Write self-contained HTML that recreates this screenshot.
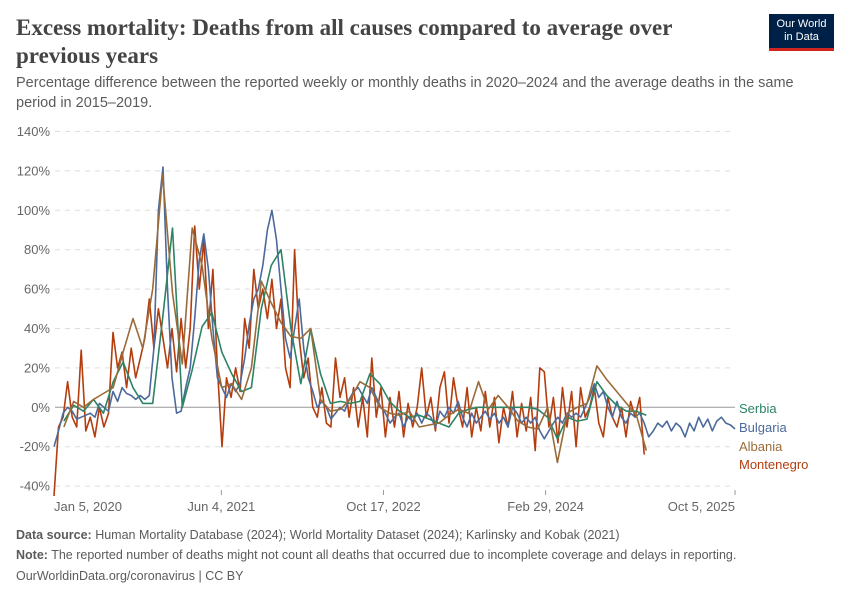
<!DOCTYPE html>
<html><head><meta charset="utf-8"><style>
body{margin:0;background:#fff;}
#wrap{position:relative;width:850px;height:600px;overflow:hidden;font-family:"Liberation Sans",sans-serif;}
.t{position:absolute;}
</style></head><body>
<div id="wrap">
<div class="t" style="left:16px;top:14px;width:700px;font-family:'Liberation Serif',serif;font-size:23px;line-height:28px;color:#444;font-weight:bold;">Excess mortality: Deaths from all causes compared to average over previous years</div>
<div class="t" style="left:769px;top:14px;width:65px;height:37px;background:#002147;border-bottom:3px solid #ce261e;box-sizing:border-box;color:#fff;font-size:11px;line-height:13px;text-align:center;padding-top:4px;">Our World<br>in Data</div>
<div class="t" style="left:16px;top:73px;width:810px;font-size:14.5px;line-height:20px;color:#5b5b5b;">Percentage difference between the reported weekly or monthly deaths in 2020–2024 and the average deaths in the same period in 2015–2019.</div>
<svg id="chart" width="850" height="600" style="position:absolute;left:0;top:0;" xmlns="http://www.w3.org/2000/svg"></svg>
<div class="t" style="left:16px;top:528px;font-size:12.5px;color:#5b5b5b;"><b>Data source:</b> Human Mortality Database (2024); World Mortality Dataset (2024); Karlinsky and Kobak (2021)</div>
<div class="t" style="left:16px;top:548px;font-size:12.5px;color:#5b5b5b;"><b>Note:</b> The reported number of deaths might not count all deaths that occurred due to incomplete coverage and delays in reporting.</div>
<div class="t" style="left:16px;top:569px;font-size:12.5px;color:#5b5b5b;">OurWorldinData.org/coronavirus | CC BY</div>
</div>
<script>
const yTicks=[-40,-20,0,20,40,60,80,100,120,140];
const xTickLabels=["Jan 5, 2020","Jun 4, 2021","Oct 17, 2022","Feb 29, 2024","Oct 5, 2025"];
const xTickDays=[0,516,1016,1516,2100];
const bulgaria=[-20,-12,-3,0,-2,-6,-5,-4,-3,-5,2,0,-2,8,3,10,7,6,4,6,4,6,30,100,122,60,15,-3,-2,10,20,45,75,88,70,40,15,10,5,12,8,12,25,42,55,60,72,90,100,85,60,35,25,40,55,30,15,8,0,3,0,-6,-3,0,-2,4,8,10,6,2,10,5,0,-3,-8,-5,-3,-10,-5,-7,-3,-8,-3,-5,-10,-2,-5,0,-3,3,-5,-10,-3,-8,-5,-2,-6,-3,-8,-5,-10,0,-3,-8,-5,-8,-5,-12,-16,-12,-8,-5,-8,-3,-5,-3,-5,0,5,12,5,8,0,-5,3,-5,-8,-3,-5,-3,-8,-15,-12,-8,-10,-7,-12,-8,-10,-15,-8,-12,-5,-10,-6,-12,-7,-5,-8,-9,-11];
const montenegro=[-45,-10,-5,13,-5,-10,29,-12,-5,-15,0,-10,-3,38,20,28,10,30,15,25,35,55,30,50,35,20,40,18,45,20,40,92,60,85,40,70,20,-20,15,5,20,8,45,30,70,50,60,45,65,40,55,20,10,80,35,15,25,0,-5,10,-8,-10,25,5,15,-5,10,-10,5,-15,25,-5,10,-15,5,-10,8,-15,2,-10,0,20,-5,5,-12,10,18,-8,15,0,-10,10,-15,0,-12,8,-10,5,-18,0,-10,8,-15,2,-12,5,-22,20,18,-10,5,-18,10,-10,8,-20,10,-5,0,10,-8,-15,5,-5,-10,0,-15,3,-5,5,-24];
const albania=[-10,3,0,4,7,10,28,45,30,60,118,58,22,91,72,35,10,12,4,20,64,53,43,36,35,40,4,-2,-1,4,13,10,0,-3,-4,-2,-10,-9,-8,-4,-1,-3,13,-1,6,0,-7,-10,-11,0,-28,-3,0,2,21,14,8,2,-4,-22];
const serbia=[-7,1,-2,4,-3,13,23,10,2,2,45,91,0,19,41,48,28,17,8,10,50,72,80,40,12,40,17,2,3,2,3,17,12,3,-2,-5,-4,-6,-8,-10,-3,-1,0,0,0,0,0,0,-1,-5,-16,-5,-7,-6,13,6,1,-2,-2,-4];
const svg=document.getElementById('chart');
const NS='http://www.w3.org/2000/svg';
const X0=54,X1=735,D1=2100,Y0=407.3,PER=1.97;
function xs(d){return X0+(d/D1)*(X1-X0);}
function ys(v){return Y0-v*PER;}
function mk(tag,attrs){const e=document.createElementNS(NS,tag);for(const k in attrs)e.setAttribute(k,attrs[k]);svg.appendChild(e);return e;}
yTicks.forEach(v=>{
  const l=mk('line',{x1:55,x2:735,y1:ys(v),y2:ys(v),stroke:v===0?'#999':'#ddd','stroke-dasharray':v===0?'':'5,5','stroke-width':1});
  
  
  const t=mk('text',{x:50,y:ys(v)+4.5,'text-anchor':'end','font-size':13,fill:'#666','font-family':'Liberation Sans, sans-serif'});
  t.textContent=v+'%';
  
  
});
xTickDays.forEach((d,i)=>{
  const x=xs(d);
  const tk=mk('line',{x1:x,x2:x,y1:490,y2:495,stroke:'#999'});
  
  
  const anchor=i===0?'start':(i===xTickDays.length-1?'end':'middle');
  const t=mk('text',{x:i===0?x:x,y:511,'text-anchor':anchor,'font-size':13,fill:'#666','font-family':'Liberation Sans, sans-serif'});
  t.textContent=xTickLabels[i];
  
  
});
function line(vals,step,start,color,name){
  const pts=vals.map((v,i)=>xs(start+i*step).toFixed(1)+','+ys(v).toFixed(1)).join(' ');
  const p=mk('polyline',{points:pts,fill:'none',stroke:color,'stroke-width':1.6,'stroke-linejoin':'round'});
  
  
}
line(montenegro,14,0,'#b43d0e','montenegro-line');
line(bulgaria,14,0,'#4c6a9c','bulgaria-line');
line(serbia,30.44,30.44,'#2c8465','serbia-line');
line(albania,30.44,30.44,'#9a6b3a','albania-line');
const labels=[['Serbia','#2c8465',413],['Bulgaria','#4c6a9c',432],['Albania','#9a6b3a',451],['Montenegro','#b43d0e',469]];
labels.forEach(l=>{
  const t=mk('text',{x:739,y:l[2],'font-size':13,fill:l[1],'font-family':'Liberation Sans, sans-serif'});
  t.textContent=l[0];
  
  
});
</script>
</body></html>
